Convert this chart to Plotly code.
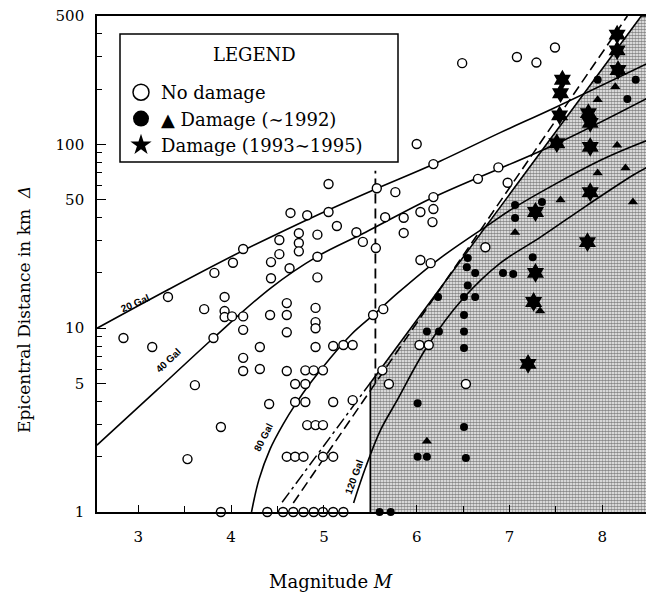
import plotly.graph_objects as go
import math

# ---------------- data ----------------
# No damage (open circles)
nd_m = [2.84, 3.15, 3.32, 3.53, 3.61, 3.71, 3.81, 3.82, 3.89, 3.89, 3.93, 3.93, 3.93, 4.01,
        4.02, 4.13, 4.13, 4.13, 4.13, 4.13, 4.31, 4.31, 4.39, 4.41, 4.42, 4.43, 4.43, 4.52,
        4.52, 4.56, 4.60, 4.60, 4.60, 4.60, 4.60, 4.63, 4.64, 4.67, 4.69, 4.69, 4.69, 4.78,
        4.78, 4.80, 4.80, 4.82, 4.80, 4.82, 4.73, 4.73, 4.73, 4.89, 4.91, 4.89, 4.91, 4.91,
        4.91, 4.91, 4.93, 4.93, 4.93, 4.99, 4.99, 4.99, 4.99, 5.05, 5.05, 5.10, 5.10, 5.10,
        5.10, 5.14, 5.21, 5.21, 5.31, 5.31, 5.35, 5.42, 5.53, 5.56, 5.57, 5.63, 5.64, 5.66,
        5.70, 5.77, 5.86, 5.86, 6.00, 6.03, 6.04, 6.04, 6.13, 6.15, 6.17, 6.18, 6.18, 6.18,
        6.49, 6.53, 6.66, 6.74, 6.88, 6.98, 7.08, 7.29, 7.49]
nd_d = [8.85, 7.9, 14.8, 1.94, 4.9, 12.7, 8.85, 20.0, 2.9, 1.0, 14.8, 12.4, 11.5, 11.6,
        22.7, 27.0, 11.6, 9.8, 6.9, 5.85, 7.9, 6.0, 1.0, 3.87, 11.8, 22.9, 18.7, 30.2,
        25.3, 1.0, 13.7, 11.8, 9.5, 5.85, 2.0, 21.2, 42.4, 1.0, 2.0, 4.97, 3.97, 1.0,
        2.0, 4.97, 3.97, 2.97, 5.9, 41.2, 32.9, 29.1, 26.2, 1.0, 2.97, 5.9, 12.9, 10.8,
        10.0, 7.9, 32.3, 24.5, 18.9, 1.0, 2.0, 2.97, 5.9, 60.9, 42.9, 1.0, 2.0, 3.97,
        8.0, 36.0, 1.0, 8.1, 8.1, 4.06, 33.3, 29.5, 11.8, 27.3, 57.8, 5.9, 12.7, 40.2,
        4.97, 55.0, 39.9, 33.0, 100.6, 8.1, 42.9, 23.5, 8.1, 22.6, 37.8, 44.5, 51.7, 78.2,
        277, 4.97, 65.0, 27.6, 75.0, 61.9, 299, 279, 337]

# Damage (~1992): filled circles
dc_m = [5.60, 5.72, 6.01, 6.11, 6.53, 6.51, 6.01, 6.51, 6.11, 6.24, 6.51, 6.51, 6.23, 6.51,
        6.63, 6.55, 6.54, 6.63, 6.55, 6.93, 7.04, 7.25, 7.06, 7.06, 7.35, 7.95, 8.27, 8.36]
dc_d = [1.0, 1.0, 2.0, 2.0, 1.97, 2.9, 3.91, 7.8, 9.6, 9.6, 9.6, 11.8, 14.8, 14.8,
        14.8, 17.1, 21.5, 20.0, 24.1, 20.0, 19.7, 24.3, 39.8, 46.8, 48.7, 225, 177, 225]

# Damage (~1992): triangles
dt_m = [6.11, 7.06, 7.33, 7.55, 7.95, 7.95, 8.14, 8.16, 8.25, 8.33]
dt_d = [2.43, 33.2, 12.4, 49.9, 70.0, 175, 206, 99.0, 74.4, 48.7]

# Damage (1993~1995): stars
ds_m = [7.20, 7.26, 7.28, 7.28, 7.51, 7.54, 7.55, 7.57, 7.84, 7.87, 7.87, 7.87, 7.85,
        8.16, 8.16, 8.17]
ds_d = [6.4, 13.9, 20.0, 42.9, 101.6, 144, 190, 225, 29.4, 55.0, 97.0, 131, 148,
        396, 325, 254]

# Equal-acceleration curves
g20_m = [2.555, 3.31, 4.10, 4.96, 5.55, 6.18, 6.90, 7.47, 8.48]
g20_d = [10.0, 16.1, 26.0, 42.0, 57.0, 78.0, 116, 157, 275]
g40_m = [2.555, 3.20, 3.81, 4.43, 4.93, 5.45, 6.18, 7.49, 8.48]
g40_d = [2.31, 4.6, 8.85, 16.6, 24.6, 33.3, 51.6, 100, 178]
g80_m = [4.22, 4.30, 4.42, 4.56, 4.70, 4.85, 5.05, 5.30, 5.55, 5.80, 6.25, 6.79, 7.06, 7.98, 8.48]
g80_d = [1.0, 1.5, 2.2, 3.0, 3.9, 5.0, 6.7, 9.3, 12.0, 15.6, 24.0, 37.0, 45.6, 82.0, 105]
g120_m = [5.32, 5.45, 5.61, 5.79, 6.11, 6.50, 6.90, 7.33, 7.84, 8.33, 8.48]
g120_d = [1.12, 1.75, 2.79, 4.06, 7.9, 14.5, 22.6, 31.2, 46.8, 68.0, 75.0]

curve_names = ["20 Gal", "40 Gal", "80 Gal", "120 Gal"]
label_m = [2.96, 3.32, 4.35, 5.32]
label_d = [13.7, 6.7, 2.53, 1.55]
label_angle = [-24, -43, -63, -70]

# Boundary lines
dash_m = [4.67, 8.27]
dash_d = [1.12, 500]
dashdot_m = [4.55, 5.50]
dashdot_d = [1.13, 5.04]
vert_m = [5.555, 5.555]
vert_d = [5.0, 72.0]
shade_m = [5.50, 5.50, 8.42, 8.60, 8.60, 5.50]
shade_d = [0.9, 5.04, 500, 500, 0.9, 0.9]

x_ticks = [3, 4, 5, 6, 7, 8]
x_minor = [3.5, 4.5, 5.5, 6.5, 7.5]
y_ticks = [1, 5, 10, 50, 100, 500]
y_minor = [2, 3, 4, 6, 7, 8, 9, 20, 30, 40, 60, 70, 80, 90, 200, 300, 400]

SERIF = "DejaVu Serif"

fig = go.Figure()

# shaded damage zone
fig.add_trace(go.Scatter(
    x=shade_m, y=shade_d, mode="lines", fill="toself",
    fillcolor="rgba(0,0,0,0)",
    fillpattern=dict(shape=".", size=3, solidity=0.62, fgcolor="#111111", bgcolor="white"),
    line=dict(color="black", width=1.6), showlegend=False, hoverinfo="skip"))

for cm, cd in [(g20_m, g20_d), (g40_m, g40_d), (g80_m, g80_d), (g120_m, g120_d)]:
    fig.add_trace(go.Scatter(x=cm, y=cd, mode="lines", line=dict(color="black", width=1.6, shape="spline", smoothing=1.0),
                             showlegend=False, hoverinfo="skip"))

fig.add_trace(go.Scatter(x=dash_m, y=dash_d, mode="lines",
                         line=dict(color="black", width=1.6, dash="10px,5px"), showlegend=False))
fig.add_trace(go.Scatter(x=dashdot_m, y=dashdot_d, mode="lines",
                         line=dict(color="black", width=1.5, dash="12px,4px,3px,4px"), showlegend=False))
fig.add_trace(go.Scatter(x=vert_m, y=vert_d, mode="lines",
                         line=dict(color="black", width=1.8, dash="10px,5px"), showlegend=False))

# data points
fig.add_trace(go.Scatter(x=nd_m, y=nd_d, mode="markers", showlegend=False, cliponaxis=False,
                         marker=dict(symbol="circle", size=9, color="white", line=dict(color="black", width=1.4))))
fig.add_trace(go.Scatter(x=dc_m, y=dc_d, mode="markers", showlegend=False, cliponaxis=False,
                         marker=dict(symbol="circle", size=8, color="black", line=dict(color="black", width=0))))
fig.add_trace(go.Scatter(x=dt_m, y=dt_d, mode="markers", showlegend=False,
                         marker=dict(symbol="triangle-up", size=9, color="black", line=dict(width=0))))
fig.add_trace(go.Scatter(x=ds_m, y=ds_d, mode="markers", showlegend=False, cliponaxis=False,
                         marker=dict(symbol="hexagram", size=15, color="black", line=dict(width=0))))

# legend-only entries (large symbols like the reference legend)
fig.add_trace(go.Scatter(x=[None], y=[None], mode="markers", name="No damage", legendgroup="a",
                         marker=dict(symbol="circle", size=16, color="white", line=dict(color="black", width=1.5))))
fig.add_trace(go.Scatter(x=[None], y=[None], mode="markers", name="▲ Damage (∼1992)", legendgroup="b",
                         marker=dict(symbol="circle", size=16, color="black")))
fig.add_trace(go.Scatter(x=[None], y=[None], mode="markers", name="Damage (1993∼1995)", legendgroup="c",
                         marker=dict(symbol="star", size=17, color="black")))

for nm, lm, ld, ang in zip(curve_names, label_m, label_d, label_angle):
    fig.add_annotation(x=lm, y=math.log10(ld), xref="x", yref="y", text="<b>" + nm + "</b>", showarrow=False,
                       xanchor="center", yanchor="middle",
                       textangle=ang, font=dict(family="Liberation Sans", size=10, color="black"))

W, H = 646, 593
L, R, T, B = 97, 0, 16, 81
pw, ph = W - L - R, H - T - B


def px(xp):
    return (xp - L) / pw


def py(yp):
    return (H - B - yp) / ph


fig.add_shape(type="rect", xref="paper", yref="paper", x0=px(120), x1=px(398), y0=py(162), y1=py(34),
              line=dict(color="black", width=1.5), fillcolor="white", layer="below")
fig.add_annotation(xref="paper", yref="paper", x=px(254), y=py(55), text="LEGEND", showarrow=False,
                   xanchor="center", yanchor="middle",
                   font=dict(family=SERIF, size=18, color="black"))
fig.add_annotation(xref="paper", yref="paper", x=px(24), y=py(310), text="Epicentral Distance in km  <i>Δ</i>",
                   showarrow=False, textangle=-90, xanchor="center", yanchor="middle",
                   font=dict(family=SERIF, size=17, color="black"))
fig.add_annotation(xref="paper", yref="paper", x=px(331), y=py(581), text="Magnitude <i>M</i>",
                   showarrow=False, xanchor="center", yanchor="middle",
                   font=dict(family=SERIF, size=18, color="black"))

fig.update_layout(
    width=W, height=H, margin=dict(l=L, r=R, t=T, b=B),
    paper_bgcolor="white", plot_bgcolor="rgba(0,0,0,0)",
    font=dict(family=SERIF, size=15, color="black"),
    legend=dict(x=px(121), y=py(74), xanchor="left", yanchor="top", bgcolor="rgba(0,0,0,0)",
                borderwidth=0, font=dict(family=SERIF, size=18, color="black"),
                tracegroupgap=0, traceorder="grouped"),
)
fig.update_xaxes(range=[2.555, 2.555 + pw / 92.8], showgrid=False, zeroline=False,
                 showline=True, linecolor="black", linewidth=1.6, mirror=True,
                 tickmode="array", tickvals=x_ticks, ticktext=[str(v) for v in x_ticks],
                 ticks="inside", ticklen=7, tickwidth=1.4, tickcolor="black", ticklabelstandoff=10,
                 minor=dict(tickvals=x_minor, ticks="inside", ticklen=6, tickwidth=1.2, tickcolor="black"),
                 tickfont=dict(family=SERIF, size=15))
fig.update_yaxes(type="log", range=[0, math.log10(500)], showgrid=False, zeroline=False,
                 showline=True, linecolor="black", linewidth=1.6, mirror=False,
                 tickmode="array", tickvals=y_ticks, ticktext=[str(v) for v in y_ticks],
                 ticks="inside", ticklen=9, tickwidth=1.4, tickcolor="black", ticklabelstandoff=8,
                 minor=dict(tickvals=y_minor, ticks="inside", ticklen=5, tickwidth=1.2, tickcolor="black"),
                 tickfont=dict(family=SERIF, size=15))

fig.write_html("out.html", config={"displayModeBar": False},
               post_script="document.body.style.margin='0px';document.body.style.overflow='hidden';"
                           "document.documentElement.style.overflow='hidden';")
